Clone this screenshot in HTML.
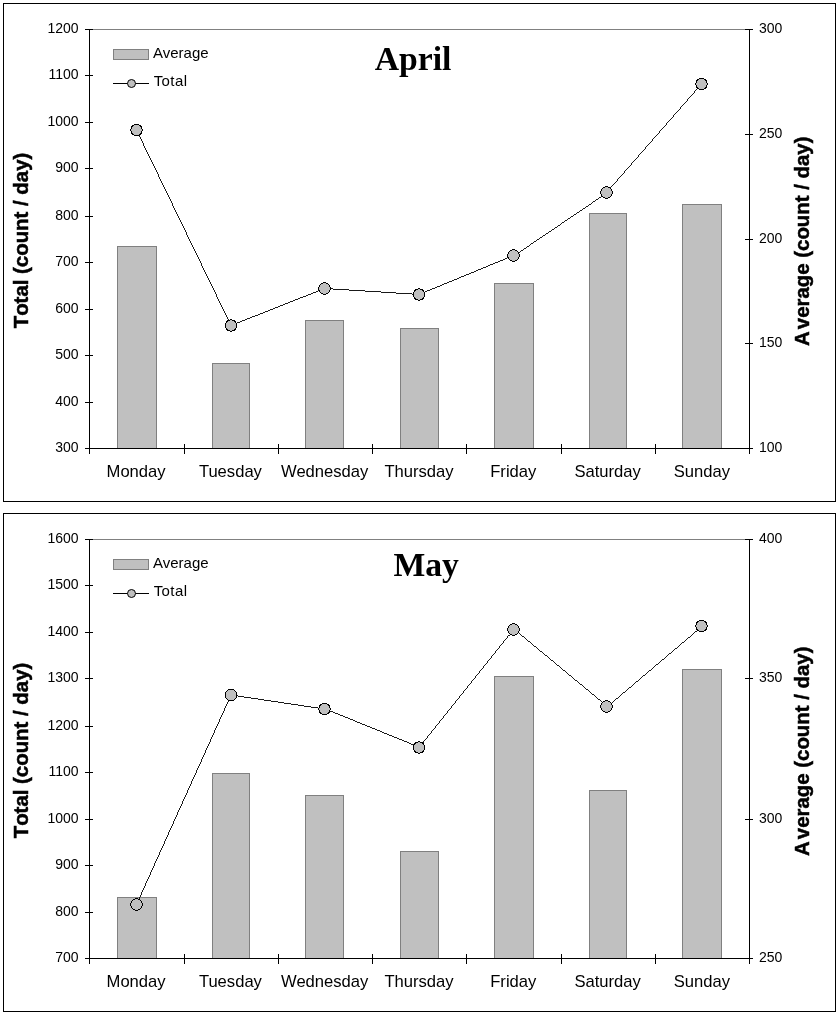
<!DOCTYPE html>
<html><head><meta charset="utf-8"><title>April / May</title>
<style>
html,body{margin:0;padding:0;background:#fff;}
svg{display:block;font-family:"Liberation Sans",sans-serif;fill:#000;}
svg text{fill:#000;}
svg text.at{font-kerning:none;stroke:#000;stroke-width:0.5px;}
</style></head><body>
<svg width="839" height="1015" viewBox="0 0 839 1015">
<rect width="839" height="1015" fill="#fff"/>
<rect x="3.5" y="3.5" width="832" height="498" fill="#fff" stroke="#000" stroke-width="1" shape-rendering="crispEdges"/>
<line x1="89" y1="29.5" x2="750" y2="29.5" stroke="#808080" stroke-width="1" shape-rendering="crispEdges"/>
<rect x="117.5" y="246.5" width="39" height="202" fill="#c0c0c0" stroke="#808080" stroke-width="1" shape-rendering="crispEdges"/>
<rect x="212.5" y="363.5" width="37" height="85" fill="#c0c0c0" stroke="#808080" stroke-width="1" shape-rendering="crispEdges"/>
<rect x="305.5" y="320.5" width="38" height="128" fill="#c0c0c0" stroke="#808080" stroke-width="1" shape-rendering="crispEdges"/>
<rect x="400.5" y="328.5" width="38" height="120" fill="#c0c0c0" stroke="#808080" stroke-width="1" shape-rendering="crispEdges"/>
<rect x="494.5" y="283.5" width="39" height="165" fill="#c0c0c0" stroke="#808080" stroke-width="1" shape-rendering="crispEdges"/>
<rect x="589.5" y="213.5" width="37" height="235" fill="#c0c0c0" stroke="#808080" stroke-width="1" shape-rendering="crispEdges"/>
<rect x="682.5" y="204.5" width="39" height="244" fill="#c0c0c0" stroke="#808080" stroke-width="1" shape-rendering="crispEdges"/>
<g stroke="#000" stroke-width="1" shape-rendering="crispEdges">
<line x1="89.5" y1="29" x2="89.5" y2="454"/>
<line x1="749.5" y1="29" x2="749.5" y2="454"/>
<line x1="85" y1="448.5" x2="753" y2="448.5"/>
<line x1="85" y1="29.5" x2="93" y2="29.5"/>
<line x1="85" y1="75.5" x2="93" y2="75.5"/>
<line x1="85" y1="122.5" x2="93" y2="122.5"/>
<line x1="85" y1="168.5" x2="93" y2="168.5"/>
<line x1="85" y1="216.5" x2="93" y2="216.5"/>
<line x1="85" y1="262.5" x2="93" y2="262.5"/>
<line x1="85" y1="309.5" x2="93" y2="309.5"/>
<line x1="85" y1="355.5" x2="93" y2="355.5"/>
<line x1="85" y1="402.5" x2="93" y2="402.5"/>
<line x1="85" y1="448.5" x2="93" y2="448.5"/>
<line x1="745" y1="29.5" x2="753" y2="29.5"/>
<line x1="745" y1="134.5" x2="753" y2="134.5"/>
<line x1="745" y1="239.5" x2="753" y2="239.5"/>
<line x1="745" y1="343.5" x2="753" y2="343.5"/>
<line x1="745" y1="448.5" x2="753" y2="448.5"/>
<line x1="184.5" y1="444" x2="184.5" y2="454"/>
<line x1="278.5" y1="444" x2="278.5" y2="454"/>
<line x1="372.5" y1="444" x2="372.5" y2="454"/>
<line x1="466.5" y1="444" x2="466.5" y2="454"/>
<line x1="561.5" y1="444" x2="561.5" y2="454"/>
<line x1="655.5" y1="444" x2="655.5" y2="454"/>
</g>
<polyline points="136.5,130.0 231.0,325.5 324.5,288.5 419.0,294.5 513.5,255.5 606.5,192.5 701.5,84.0" fill="none" stroke="#000" stroke-width="0.9" shape-rendering="crispEdges"/>
<circle cx="136.5" cy="130.0" r="5.75" fill="#c0c0c0" stroke="#000" stroke-width="1" shape-rendering="crispEdges"/>
<circle cx="231.0" cy="325.5" r="5.75" fill="#c0c0c0" stroke="#000" stroke-width="1" shape-rendering="crispEdges"/>
<circle cx="324.5" cy="288.5" r="5.75" fill="#c0c0c0" stroke="#000" stroke-width="1" shape-rendering="crispEdges"/>
<circle cx="419.0" cy="294.5" r="5.75" fill="#c0c0c0" stroke="#000" stroke-width="1" shape-rendering="crispEdges"/>
<circle cx="513.5" cy="255.5" r="5.75" fill="#c0c0c0" stroke="#000" stroke-width="1" shape-rendering="crispEdges"/>
<circle cx="606.5" cy="192.5" r="5.75" fill="#c0c0c0" stroke="#000" stroke-width="1" shape-rendering="crispEdges"/>
<circle cx="701.5" cy="84.0" r="5.75" fill="#c0c0c0" stroke="#000" stroke-width="1" shape-rendering="crispEdges"/>
<rect x="113.5" y="49.5" width="35" height="10" fill="#c0c0c0" stroke="#808080" shape-rendering="crispEdges"/>
<line x1="113" y1="83.5" x2="149" y2="83.5" stroke="#000" shape-rendering="crispEdges"/>
<circle cx="131.5" cy="83.5" r="4" fill="#c0c0c0" stroke="#000"/>
<text x="153" y="58" font-size="15">Average</text>
<text x="153.7" y="85.8" font-size="15" letter-spacing="0.4">Total</text>
<text x="78.6" y="33" font-size="14" text-anchor="end">1200</text>
<text x="78.6" y="79" font-size="14" text-anchor="end">1100</text>
<text x="78.6" y="126" font-size="14" text-anchor="end">1000</text>
<text x="78.6" y="172" font-size="14" text-anchor="end">900</text>
<text x="78.6" y="220" font-size="14" text-anchor="end">800</text>
<text x="78.6" y="266" font-size="14" text-anchor="end">700</text>
<text x="78.6" y="313" font-size="14" text-anchor="end">600</text>
<text x="78.6" y="359" font-size="14" text-anchor="end">500</text>
<text x="78.6" y="406" font-size="14" text-anchor="end">400</text>
<text x="78.6" y="452" font-size="14" text-anchor="end">300</text>
<text x="759" y="33" font-size="14">300</text>
<text x="759" y="138" font-size="14">250</text>
<text x="759" y="243" font-size="14">200</text>
<text x="759" y="347" font-size="14">150</text>
<text x="759" y="452" font-size="14">100</text>
<text x="136.1" y="477" font-size="16.6" text-anchor="middle">Monday</text>
<text x="230.4" y="477" font-size="16.6" text-anchor="middle">Tuesday</text>
<text x="324.7" y="477" font-size="16.6" text-anchor="middle">Wednesday</text>
<text x="419.0" y="477" font-size="16.6" text-anchor="middle">Thursday</text>
<text x="513.3" y="477" font-size="16.6" text-anchor="middle">Friday</text>
<text x="607.6" y="477" font-size="16.6" text-anchor="middle">Saturday</text>
<text x="701.9" y="477" font-size="16.6" text-anchor="middle">Sunday</text>
<text x="413" y="69.7" font-size="33.7" font-weight="bold" font-family="'Liberation Serif',serif" text-anchor="middle">April</text>
<text transform="translate(28,240.5) rotate(-90)" font-size="20.4" font-weight="bold" text-anchor="middle" class="at">Total (count / day)</text>
<text transform="translate(808.8,241.2) rotate(-90)" font-size="20.4" font-weight="bold" text-anchor="middle" class="at"><tspan letter-spacing="2">A</tspan>verage (count / day)</text>
<rect x="3.5" y="513.5" width="832" height="498" fill="#fff" stroke="#000" stroke-width="1" shape-rendering="crispEdges"/>
<line x1="89" y1="539.5" x2="750" y2="539.5" stroke="#808080" stroke-width="1" shape-rendering="crispEdges"/>
<rect x="117.5" y="897.5" width="39" height="61" fill="#c0c0c0" stroke="#808080" stroke-width="1" shape-rendering="crispEdges"/>
<rect x="212.5" y="773.5" width="37" height="185" fill="#c0c0c0" stroke="#808080" stroke-width="1" shape-rendering="crispEdges"/>
<rect x="305.5" y="795.5" width="38" height="163" fill="#c0c0c0" stroke="#808080" stroke-width="1" shape-rendering="crispEdges"/>
<rect x="400.5" y="851.5" width="38" height="107" fill="#c0c0c0" stroke="#808080" stroke-width="1" shape-rendering="crispEdges"/>
<rect x="494.5" y="676.5" width="39" height="282" fill="#c0c0c0" stroke="#808080" stroke-width="1" shape-rendering="crispEdges"/>
<rect x="589.5" y="790.5" width="37" height="168" fill="#c0c0c0" stroke="#808080" stroke-width="1" shape-rendering="crispEdges"/>
<rect x="682.5" y="669.5" width="39" height="289" fill="#c0c0c0" stroke="#808080" stroke-width="1" shape-rendering="crispEdges"/>
<g stroke="#000" stroke-width="1" shape-rendering="crispEdges">
<line x1="89.5" y1="539" x2="89.5" y2="964"/>
<line x1="749.5" y1="539" x2="749.5" y2="964"/>
<line x1="85" y1="958.5" x2="753" y2="958.5"/>
<line x1="85" y1="539.5" x2="93" y2="539.5"/>
<line x1="85" y1="585.5" x2="93" y2="585.5"/>
<line x1="85" y1="632.5" x2="93" y2="632.5"/>
<line x1="85" y1="678.5" x2="93" y2="678.5"/>
<line x1="85" y1="726.5" x2="93" y2="726.5"/>
<line x1="85" y1="772.5" x2="93" y2="772.5"/>
<line x1="85" y1="819.5" x2="93" y2="819.5"/>
<line x1="85" y1="865.5" x2="93" y2="865.5"/>
<line x1="85" y1="912.5" x2="93" y2="912.5"/>
<line x1="85" y1="958.5" x2="93" y2="958.5"/>
<line x1="745" y1="539.5" x2="753" y2="539.5"/>
<line x1="745" y1="678.5" x2="753" y2="678.5"/>
<line x1="745" y1="819.5" x2="753" y2="819.5"/>
<line x1="745" y1="958.5" x2="753" y2="958.5"/>
<line x1="184.5" y1="954" x2="184.5" y2="964"/>
<line x1="278.5" y1="954" x2="278.5" y2="964"/>
<line x1="372.5" y1="954" x2="372.5" y2="964"/>
<line x1="466.5" y1="954" x2="466.5" y2="964"/>
<line x1="561.5" y1="954" x2="561.5" y2="964"/>
<line x1="655.5" y1="954" x2="655.5" y2="964"/>
</g>
<polyline points="136.5,904.5 231.0,695.0 324.5,709.0 419.0,747.5 513.5,629.5 606.5,706.5 701.5,626.0" fill="none" stroke="#000" stroke-width="0.9" shape-rendering="crispEdges"/>
<circle cx="136.5" cy="904.5" r="5.75" fill="#c0c0c0" stroke="#000" stroke-width="1" shape-rendering="crispEdges"/>
<circle cx="231.0" cy="695.0" r="5.75" fill="#c0c0c0" stroke="#000" stroke-width="1" shape-rendering="crispEdges"/>
<circle cx="324.5" cy="709.0" r="5.75" fill="#c0c0c0" stroke="#000" stroke-width="1" shape-rendering="crispEdges"/>
<circle cx="419.0" cy="747.5" r="5.75" fill="#c0c0c0" stroke="#000" stroke-width="1" shape-rendering="crispEdges"/>
<circle cx="513.5" cy="629.5" r="5.75" fill="#c0c0c0" stroke="#000" stroke-width="1" shape-rendering="crispEdges"/>
<circle cx="606.5" cy="706.5" r="5.75" fill="#c0c0c0" stroke="#000" stroke-width="1" shape-rendering="crispEdges"/>
<circle cx="701.5" cy="626.0" r="5.75" fill="#c0c0c0" stroke="#000" stroke-width="1" shape-rendering="crispEdges"/>
<rect x="113.5" y="559.5" width="35" height="10" fill="#c0c0c0" stroke="#808080" shape-rendering="crispEdges"/>
<line x1="113" y1="593.5" x2="149" y2="593.5" stroke="#000" shape-rendering="crispEdges"/>
<circle cx="131.5" cy="593.5" r="4" fill="#c0c0c0" stroke="#000"/>
<text x="153" y="568" font-size="15">Average</text>
<text x="153.7" y="595.8" font-size="15" letter-spacing="0.4">Total</text>
<text x="78.6" y="543" font-size="14" text-anchor="end">1600</text>
<text x="78.6" y="589" font-size="14" text-anchor="end">1500</text>
<text x="78.6" y="636" font-size="14" text-anchor="end">1400</text>
<text x="78.6" y="682" font-size="14" text-anchor="end">1300</text>
<text x="78.6" y="730" font-size="14" text-anchor="end">1200</text>
<text x="78.6" y="776" font-size="14" text-anchor="end">1100</text>
<text x="78.6" y="823" font-size="14" text-anchor="end">1000</text>
<text x="78.6" y="869" font-size="14" text-anchor="end">900</text>
<text x="78.6" y="916" font-size="14" text-anchor="end">800</text>
<text x="78.6" y="962" font-size="14" text-anchor="end">700</text>
<text x="759" y="543" font-size="14">400</text>
<text x="759" y="682" font-size="14">350</text>
<text x="759" y="823" font-size="14">300</text>
<text x="759" y="962" font-size="14">250</text>
<text x="136.1" y="987" font-size="16.6" text-anchor="middle">Monday</text>
<text x="230.4" y="987" font-size="16.6" text-anchor="middle">Tuesday</text>
<text x="324.7" y="987" font-size="16.6" text-anchor="middle">Wednesday</text>
<text x="419.0" y="987" font-size="16.6" text-anchor="middle">Thursday</text>
<text x="513.3" y="987" font-size="16.6" text-anchor="middle">Friday</text>
<text x="607.6" y="987" font-size="16.6" text-anchor="middle">Saturday</text>
<text x="701.9" y="987" font-size="16.6" text-anchor="middle">Sunday</text>
<text x="426.2" y="576" font-size="33.7" font-weight="bold" font-family="'Liberation Serif',serif" text-anchor="middle">May</text>
<text transform="translate(28,750.5) rotate(-90)" font-size="20.4" font-weight="bold" text-anchor="middle" class="at">Total (count / day)</text>
<text transform="translate(808.8,751.2) rotate(-90)" font-size="20.4" font-weight="bold" text-anchor="middle" class="at"><tspan letter-spacing="2">A</tspan>verage (count / day)</text>
</svg>
</body></html>
